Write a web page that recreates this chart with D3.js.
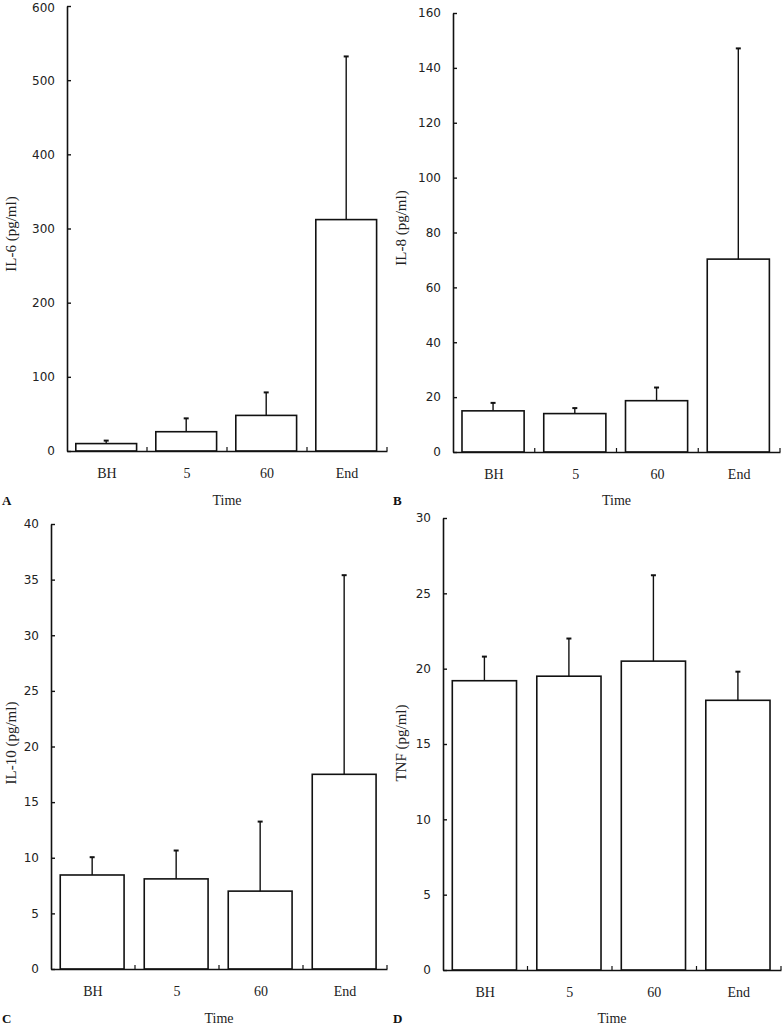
<!DOCTYPE html>
<html>
<head>
<meta charset="utf-8">
<script src="https://cdn.jsdelivr.net/npm/d3@7/dist/d3.min.js"></script>
<style>
  html, body { margin: 0; padding: 0; background: #fff; }
  svg { display: block; }
</style>
</head>
<body>
<svg id="chart" width="782" height="1030"></svg>
<script>
// ---- data ----
const categories = ["BH", "5", "60", "End"];
const il6Mean  = [10, 26, 48, 312];
const il6Sd    = [4, 18, 31, 220];
const il8Mean  = [15, 14, 18.7, 70.3];
const il8Sd    = [2.9, 2.0, 4.8, 76.8];
const il10Mean = [8.45, 8.1, 7.0, 17.5];
const il10Sd   = [1.6, 2.55, 6.25, 17.9];
const tnfMean  = [19.2, 19.5, 20.5, 17.9];
const tnfSd    = [1.6, 2.5, 5.7, 1.9];
const yMax     = [600, 160, 40, 30];
const yStep    = [100, 20, 5, 5];
const yTitles  = ["IL-6 (pg/ml)", "IL-8 (pg/ml)", "IL-10 (pg/ml)", "TNF (pg/ml)"];
const panelLetters = ["A", "B", "C", "D"];
const xTitle = "Time";

// ---- layout (pixels) ----
const panels = [
  { mean: il6Mean,  sd: il6Sd,  x0: 67,  x1: 387, yTop: 6,   yBot: 451, titleX: 13,  titleY: 234, letterX: 2,   rowBase: 505 },
  { mean: il8Mean,  sd: il8Sd,  x0: 453, x1: 780, yTop: 13,  yBot: 452, titleX: 403, titleY: 228, letterX: 393, rowBase: 505 },
  { mean: il10Mean, sd: il10Sd, x0: 51,  x1: 387, yTop: 524, yBot: 969, titleX: 13,  titleY: 743, letterX: 2,   rowBase: 1023 },
  { mean: tnfMean,  sd: tnfSd,  x0: 443, x1: 781, yTop: 518, yBot: 970, titleX: 403, titleY: 743, letterX: 393, rowBase: 1023 }
];

const svg = d3.select("#chart");
const ink = "#111";
const serif = "'Liberation Serif', 'Times New Roman', serif";
const sans = "'DejaVu Sans', Verdana, sans-serif";

panels.forEach((p, i) => {
  const g = svg.append("g");
  const x = d3.scaleBand().domain(categories).range([p.x0, p.x1]).padding(0);
  const y = d3.scaleLinear().domain([0, yMax[i]]).range([p.yBot, p.yTop]);
  const bw = x.bandwidth();

  // bars
  g.selectAll("rect.bar").data(categories).join("rect")
    .attr("class", "bar")
    .attr("x", c => x(c) + bw * 0.11)
    .attr("width", bw * 0.76)
    .attr("y", (c, k) => y(p.mean[k]))
    .attr("height", (c, k) => y(0) - y(p.mean[k]))
    .attr("fill", "#fff")
    .attr("stroke", ink)
    .attr("stroke-width", 1.6);

  // error bars (upper only)
  const cx = c => x(c) + bw * 0.11 + bw * 0.38;
  g.selectAll("line.err").data(categories).join("line")
    .attr("class", "err")
    .attr("x1", cx).attr("x2", cx)
    .attr("y1", (c, k) => y(p.mean[k]))
    .attr("y2", (c, k) => y(p.mean[k] + p.sd[k]))
    .attr("stroke", ink).attr("stroke-width", 1.4);
  g.selectAll("line.cap").data(categories).join("line")
    .attr("class", "cap")
    .attr("x1", c => cx(c) - 2.5).attr("x2", c => cx(c) + 2.5)
    .attr("y1", (c, k) => y(p.mean[k] + p.sd[k]))
    .attr("y2", (c, k) => y(p.mean[k] + p.sd[k]))
    .attr("stroke", ink).attr("stroke-width", 2);

  // y axis
  const yAxis = d3.axisLeft(y)
    .tickValues(d3.range(0, yMax[i] + yStep[i] / 2, yStep[i]))
    .tickFormat(d3.format("d"))
    .tickSizeInner(-4).tickSizeOuter(0).tickPadding(12);
  const ya = g.append("g").attr("transform", `translate(${p.x0},0)`).call(yAxis);
  ya.select(".domain").attr("stroke", ink).attr("stroke-width", 1.6);
  ya.selectAll(".tick line").attr("stroke", ink).attr("stroke-width", 1.4);
  ya.selectAll(".tick text").attr("font-family", sans).attr("font-size", 12).attr("fill", "#222")
    .attr("dy", d => (y(d) < 10 ? "0.42em" : "0.32em"));

  // x axis
  const xAxis = d3.axisBottom(x).tickSize(0).tickPadding(17);
  const xa = g.append("g").attr("transform", `translate(0,${p.yBot})`).call(xAxis);
  xa.select(".domain").attr("stroke", ink).attr("stroke-width", 1.6);
  xa.selectAll(".tick text").attr("font-family", serif).attr("font-size", 14).attr("fill", "#222");
  // boundary ticks pointing up
  g.selectAll("line.bt").data(categories).join("line")
    .attr("class", "bt")
    .attr("x1", c => x(c) + bw).attr("x2", c => x(c) + bw)
    .attr("y1", p.yBot).attr("y2", p.yBot - 4)
    .attr("stroke", ink).attr("stroke-width", 1.2);

  // titles
  g.append("text")
    .attr("transform", `translate(${p.titleX},${p.titleY}) rotate(-90)`)
    .attr("text-anchor", "middle")
    .attr("dominant-baseline", "middle")
    .attr("font-family", serif).attr("font-size", 15).attr("fill", "#222")
    .text(yTitles[i]);
  g.append("text")
    .attr("x", (p.x0 + p.x1) / 2)
    .attr("y", p.rowBase)
    .attr("text-anchor", "middle")
    .attr("font-family", serif).attr("font-size", 14).attr("fill", "#222")
    .text(xTitle);
  g.append("text")
    .attr("x", p.letterX)
    .attr("y", p.rowBase)
    .attr("font-family", serif).attr("font-size", 13).attr("font-weight", "bold").attr("fill", "#111")
    .text(panelLetters[i]);
});
</script>
</body>
</html>
